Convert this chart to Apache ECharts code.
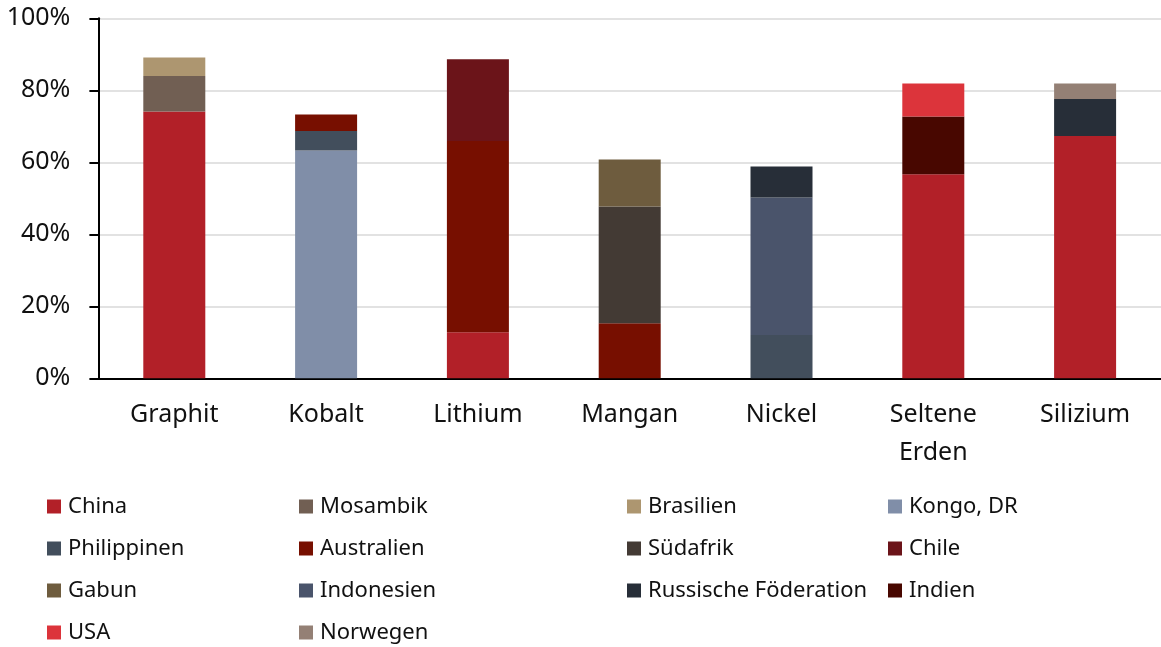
<!DOCTYPE html>
<html>
<head>
<meta charset="utf-8">
<script src="https://cdn.jsdelivr.net/npm/echarts@6/dist/echarts.min.js"></script>
<style>
  html, body { margin: 0; padding: 0; background: #fff; }
  #chart { width: 1161px; height: 647px; }
</style>
</head>
<body>
<div id="chart"></div>
<script>
// Rohstoffe (Kategorien)
const categories = ['Graphit', 'Kobalt', 'Lithium', 'Mangan', 'Nickel', 'Seltene\nErden', 'Silizium']
const yTicks = [0, 20, 40, 60, 80, 100]

// Anteile in %, Reihenfolge wie Kategorien
const china = [74.1, null, 12.8, null, null, 56.7, 67.3]
const mosambik = [9.9, null, null, null, null, null, null]
const brasilien = [5.1, null, null, null, null, null, null]
const kongo = [null, 63.3, null, null, null, null, null]
const philippinen = [null, 5.4, null, null, 12.0, null, null]
const australien = [null, 4.6, 53.1, 15.3, null, null, null]
const suedafrik = [null, null, null, 32.4, null, null, null]
const chile = [null, null, 22.7, null, null, null, null]
const gabun = [null, null, null, 13.1, null, null, null]
const indonesien = [null, null, null, null, 38.2, null, null]
const russland = [null, null, null, null, 8.6, null, 10.3]
const indien = [null, null, null, null, null, 16.0, null]
const usa = [null, null, null, null, null, 9.2, null]
const norwegen = [null, null, null, null, null, null, 4.3]

const countries = [
  { name: 'China', data: china, color: '#B22028' },
  { name: 'Mosambik', data: mosambik, color: '#715F53' },
  { name: 'Brasilien', data: brasilien, color: '#AD9670' },
  { name: 'Kongo, DR', data: kongo, color: '#808EA8' },
  { name: 'Philippinen', data: philippinen, color: '#424E5C' },
  { name: 'Australien', data: australien, color: '#770F00' },
  { name: 'Südafrik', data: suedafrik, color: '#433A34' },
  { name: 'Chile', data: chile, color: '#6B1419' },
  { name: 'Gabun', data: gabun, color: '#6E5C3E' },
  { name: 'Indonesien', data: indonesien, color: '#4A546B' },
  { name: 'Russische Föderation', data: russland, color: '#272E38' },
  { name: 'Indien', data: indien, color: '#480700' },
  { name: 'USA', data: usa, color: '#DC343B' },
  { name: 'Norwegen', data: norwegen, color: '#948075' }
]

const font = 'Noto Sans'

// Legende in 4 Spalten wie im Original
const legendCols = [
  { left: 47, names: ['China', 'Philippinen', 'Gabun', 'USA'] },
  { left: 299, names: ['Mosambik', 'Australien', 'Indonesien', 'Norwegen'] },
  { left: 627, names: ['Brasilien', 'Südafrik', 'Russische Föderation'] },
  { left: 888, names: ['Kongo, DR', 'Chile', 'Indien'] }
]

const chart = echarts.init(document.getElementById('chart'))
chart.setOption({
  animation: false,
  grid: { left: 98.4, right: -9, top: 18.3, bottom: 268.7 },
  legend: legendCols.map(c => ({
    orient: 'vertical',
    left: c.left,
    top: 495.5,
    height: 150,
    padding: 0,
    itemWidth: 14,
    itemHeight: 14,
    itemGap: 20,
    icon: 'rect',
    data: c.names,
    textStyle: { fontFamily: font, fontSize: 22, lineHeight: 22, color: '#111', padding: [0, 0, 0, 2] }
  })),
  xAxis: {
    type: 'category',
    data: categories,
    axisLine: { lineStyle: { color: '#000', width: 2 } },
    axisTick: { show: false },
    axisLabel: {
      interval: 0,
      margin: 18,
      fontFamily: font,
      fontSize: 25,
      lineHeight: 38,
      color: '#111'
    }
  },
  yAxis: {
    type: 'value',
    min: yTicks[0],
    max: yTicks[yTicks.length - 1],
    interval: 20,
    axisLine: { show: true, lineStyle: { color: '#000', width: 2 } },
    axisTick: { show: true, length: 9, lineStyle: { color: '#000', width: 2 } },
    splitLine: { lineStyle: { color: '#D9D9D9', width: 1.5 } },
    axisLabel: {
      margin: 28,
      fontFamily: font,
      fontSize: 25,
      color: '#111',
      formatter: '{value}%'
    }
  },
  series: countries.map(c => ({
    name: c.name,
    type: 'bar',
    stack: 'total',
    barWidth: 62,
    data: c.data,
    itemStyle: { color: c.color }
  }))
})
</script>
</body>
</html>
